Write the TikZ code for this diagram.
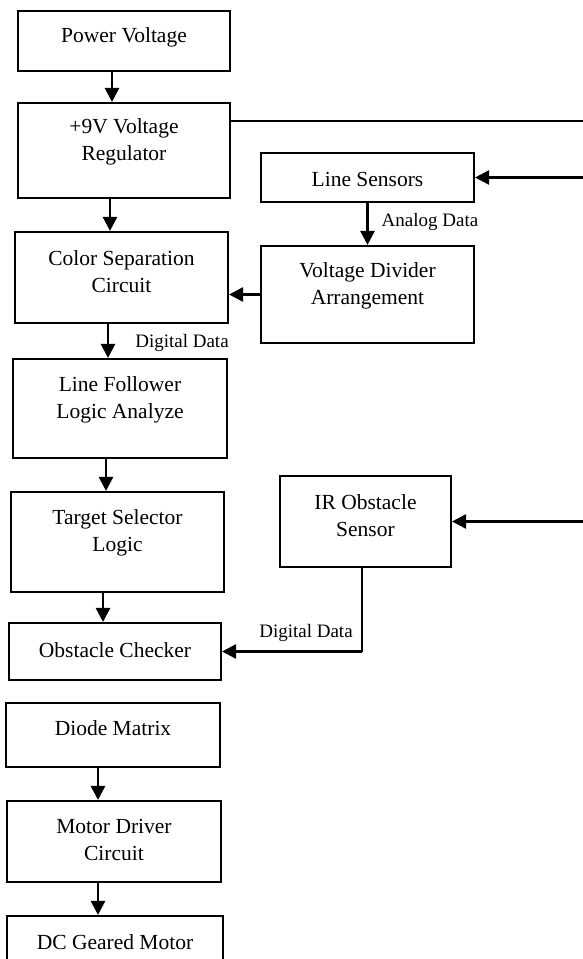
\documentclass[tikz,border=0pt]{standalone}
\usepackage{fontspec}
\setmainfont{Liberation Serif}
\usetikzlibrary{arrows.meta,calc}
\begin{document}
\begin{tikzpicture}[x=1pt,y=-1pt,
  blk/.style={draw,line width=2.1pt,inner sep=0pt,minimum width=#1},
  txt/.style={inner sep=0pt,align=center,font=\fontsize{21.5pt}{27pt}\selectfont},
  lbl/.style={inner sep=0pt,font=\fontsize{19pt}{23pt}\selectfont},
  arr/.style={line width=2.6pt,-{Triangle[length=14pt,width=14pt]}},
  thin/.style={line width=1.6pt}]
\useasboundingbox (0,0) rectangle (582,959);
\fill[white] (0,0) rectangle (582,959);
% boxes
\node[blk=212pt,minimum height=60pt] (pv) at (124,41) {};
\node[blk=212pt,minimum height=95pt] (reg) at (124,150.5) {};
\node[blk=213pt,minimum height=91pt] (cs) at (121.5,277.5) {};
\node[blk=213pt,minimum height=49pt] (ls) at (367.5,177.5) {};
\node[blk=213pt,minimum height=97pt] (vd) at (367.5,294.5) {};
\node[blk=214pt,minimum height=99pt] (lf) at (120,408.5) {};
\node[blk=213pt,minimum height=100pt] (ts) at (117.5,542) {};
\node[blk=212pt,minimum height=57pt] (oc) at (115,651.5) {};
\node[blk=171pt,minimum height=91pt] (ir) at (365.5,521.5) {};
\node[blk=214pt,minimum height=64pt] (dm) at (113,735) {};
\node[blk=214pt,minimum height=81pt] (md) at (114,841.5) {};
\node[blk=216pt,minimum height=59pt] (dc) at (115,945.5) {};
% texts
\node[txt] (pvt) at (124,37) {Power Voltage};
\node[txt] (regt) at (124,141.5) {+9V Voltage\\Regulator};
\node[txt] (cst) at (121.5,271.5) {Color Separation\\Circuit};
\node[txt] (lst) at (367.5,179) {Line Sensors};
\node[txt] (vdt) at (367.5,285.5) {Voltage Divider\\Arrangement};
\node[txt] (lft) at (120,399.5) {Line Follower\\Logic Analyze};
\node[txt] (tst) at (117.5,532.5) {Target Selector\\Logic};
\node[txt] (oct) at (115,650) {Obstacle Checker};
\node[txt] (irt) at (365.5,515.5) {IR Obstacle\\Sensor};
\node[txt] (dmt) at (113,728) {Diode Matrix};
\node[txt] (mdt) at (114,840) {Motor Driver\\Circuit};
\node[txt] (dct) at (115,942) {DC Geared Motor};
% edge coordinates
\coordinate (e1) at (585,121);
\coordinate (e2) at (585,177.5);
\coordinate (e3) at (585,521.5);
% connectors
\draw[arr] ([xshift=-12pt]pv.south) -- ([xshift=-12pt]pv.south |- reg.north);
\draw[arr] ([xshift=-14pt]reg.south) -- ([xshift=-14pt]reg.south |- cs.north);
\draw[thin] (reg.east |- e1) -- (e1);
\draw[arr] (e2) -- (ls.east);
\draw[arr] (ls.south) -- (vd.north);
\draw[arr] (vd.west) -- (vd.west -| cs.east);
\draw[arr] ([xshift=-13.5pt]cs.south) -- ([xshift=-13.5pt]cs.south |- lf.north);
\draw[arr] ([xshift=-14pt]lf.south) -- ([xshift=-14pt]lf.south |- ts.north);
\draw[arr] ([xshift=-14.5pt]ts.south) -- ([xshift=-14.5pt]ts.south |- oc.north);
\draw[arr] (e3) -- (ir.east);
\draw[thin] ([xshift=-3.5pt]ir.south) -- ([xshift=-3.5pt]ir.south |- oc.east);
\draw[arr] ([xshift=-3.5pt]ir.south |- oc.east) -- (oc.east);
\draw[arr] ([xshift=-15pt]dm.south) -- ([xshift=-15pt]dm.south |- md.north);
\draw[arr] ([xshift=-16pt]md.south) -- ([xshift=-16pt]md.south |- dc.north);
% labels
\node[lbl] (l1) at (430,222) {Analog Data};
\node[lbl] (l2) at (182,343) {Digital Data};
\node[lbl] (l3) at (306,633) {Digital Data};
\end{tikzpicture}
\end{document}
